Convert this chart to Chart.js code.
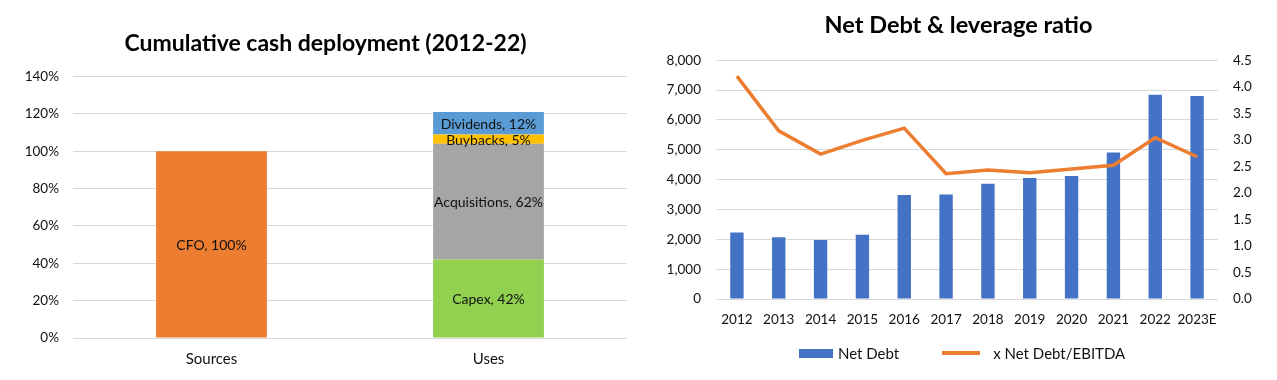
<!DOCTYPE html>
<html>
<head>
<meta charset="utf-8">
<script src="https://cdn.jsdelivr.net/npm/chart.js@4.4.1/dist/chart.umd.min.js"></script>
<style>
  body { margin: 0; background: #fff; }
  .wrap { position: relative; width: 1277px; height: 380px; }
  #cashChart { position: absolute; left: 0; top: 0; }
  #debtChart { position: absolute; left: 640px; top: 0; }
  #debtLegend {
    position: absolute; left: 799px; top: 343px; height: 20px;
    display: flex; align-items: center;
    font: 15px Lato, "Open Sans", sans-serif; color: #111;
  }
  #debtLegend .item { display: flex; align-items: center; margin-right: 43px; }
  #debtLegend .swatch { margin-right: 5px; }
  #debtLegend .swatch.line { margin-right: 13px; }
</style>
</head>
<body>
<div class="wrap">
  <canvas id="cashChart" width="640" height="380"></canvas>
  <canvas id="debtChart" width="637" height="380"></canvas>
  <div id="debtLegend"></div>
</div>
<script>
// left chart: cumulative cash deployment, % of CFO
const cashCategories = ['Sources', 'Uses'];
const cfo = [100, null];
const capex = [null, 42];
const acquisitions = [null, 62];
const buybacks = [null, 5];
const dividends = [null, 12];

// right chart: net debt and leverage
const years = ['2012', '2013', '2014', '2015', '2016', '2017', '2018', '2019', '2020', '2021', '2022', '2023E'];
const netDebt = [2230, 2070, 1980, 2150, 3480, 3500, 3860, 4050, 4120, 4910, 6840, 6800];
const leverage = [4.20, 3.17, 2.73, 2.99, 3.22, 2.36, 2.43, 2.38, 2.45, 2.52, 3.04, 2.68];

const FONT = 'Lato, "Open Sans", sans-serif';
Chart.defaults.font.family = FONT;
Chart.defaults.color = '#111';

// writes "Name, x%" in the middle of every stacked segment
const segmentLabels = {
  id: 'segmentLabels',
  afterDatasetsDraw(chart) {
    const ctx = chart.ctx;
    ctx.save();
    ctx.font = '14px ' + FONT;
    ctx.fillStyle = '#111';
    ctx.textAlign = 'center';
    ctx.textBaseline = 'middle';
    chart.data.datasets.forEach((ds, i) => {
      chart.getDatasetMeta(i).data.forEach((bar, j) => {
        const v = ds.data[j];
        if (v == null) return;
        ctx.fillText(ds.label + ', ' + v + '%', bar.x, (bar.y + bar.base) / 2 + 1);
      });
    });
    ctx.restore();
  }
};

// html legend below the right chart, bar first then line
const htmlLegend = {
  id: 'htmlLegend',
  afterUpdate(chart) {
    const box = document.getElementById('debtLegend');
    box.innerHTML = '';
    chart.data.datasets.slice().reverse().forEach(ds => {
      const item = document.createElement('div');
      item.className = 'item';
      const sw = document.createElement('span');
      if (ds.type === 'line') {
        sw.className = 'swatch line';
        sw.style.cssText = 'display:inline-block;width:38px;height:4px;background:' + ds.borderColor;
      } else {
        sw.className = 'swatch';
        sw.style.cssText = 'display:inline-block;width:34px;height:9px;background:' + ds.backgroundColor;
      }
      const txt = document.createElement('span');
      txt.textContent = ds.label;
      item.appendChild(sw);
      item.appendChild(txt);
      box.appendChild(item);
    });
  }
};

new Chart(document.getElementById('cashChart'), {
  type: 'bar',
  data: {
    labels: cashCategories,
    datasets: [
      { label: 'CFO', data: cfo, backgroundColor: '#ED7D31' },
      { label: 'Capex', data: capex, backgroundColor: '#92D050' },
      { label: 'Acquisitions', data: acquisitions, backgroundColor: '#A5A5A5' },
      { label: 'Buybacks', data: buybacks, backgroundColor: '#FFC000' },
      { label: 'Dividends', data: dividends, backgroundColor: '#5B9BD5' }
    ]
  },
  options: {
    responsive: false,
    animation: false,
    // left padding + narrow y axis keeps the title centred like the original
    layout: { padding: { left: 24, right: 13, top: 0, bottom: 0 } },
    datasets: { bar: { barPercentage: 0.4, categoryPercentage: 1, skipNull: true, grouped: false } },
    plugins: {
      legend: { display: false },
      tooltip: { enabled: false },
      title: {
        display: true,
        text: 'Cumulative cash deployment (2012-22)',
        color: '#000',
        font: { size: 23, weight: 'bold' },
        padding: { top: 30, bottom: 19 }
      }
    },
    scales: {
      x: {
        stacked: true,
        grid: { display: false, drawTicks: false },
        border: { display: false },
        ticks: { padding: 12, font: { size: 15 } },
        afterFit(s) { s.height = 42; }
      },
      y: {
        stacked: true,
        min: 0,
        max: 140,
        ticks: { stepSize: 20, padding: 14, font: { size: 13.5 }, callback: v => v + '%' },
        grid: { color: '#d9d9d9', drawTicks: false },
        border: { display: false },
        afterFit(s) { s.width = 49; }
      }
    }
  },
  plugins: [segmentLabels]
});

new Chart(document.getElementById('debtChart'), {
  type: 'bar',
  data: {
    labels: years,
    datasets: [
      {
        type: 'line',
        label: 'x Net Debt/EBITDA',
        data: leverage,
        yAxisID: 'y2',
        borderColor: '#ED7D31',
        borderWidth: 3.5,
        pointRadius: 0,
        tension: 0,
        order: 0
      },
      {
        label: 'Net Debt',
        data: netDebt,
        yAxisID: 'y',
        backgroundColor: '#4472C4',
        barPercentage: 0.32,
        categoryPercentage: 1,
        order: 1
      }
    ]
  },
  options: {
    responsive: false,
    animation: false,
    layout: { padding: { left: 0, right: 0, top: 0, bottom: 0 } },
    plugins: {
      tooltip: { enabled: false },
      legend: { display: false },
      title: {
        display: true,
        text: 'Net Debt & leverage ratio',
        color: '#000',
        font: { size: 23.5, weight: 'bold' },
        padding: { top: 11, bottom: 21 }
      }
    },
    scales: {
      x: {
        grid: { display: false, drawTicks: false },
        border: { display: false },
        ticks: { padding: 13, font: { size: 13.5 }, autoSkip: false, maxRotation: 0 },
        afterFit(s) { s.height = 81; }
      },
      y: {
        position: 'left',
        min: 0,
        max: 8000,
        ticks: { stepSize: 1000, padding: 15, font: { size: 13.5 }, callback: v => v.toLocaleString('en-US') },
        grid: { color: '#d9d9d9', drawTicks: false },
        border: { display: false },
        afterFit(s) { s.width = 76; }
      },
      y2: {
        position: 'right',
        min: 0,
        max: 4.5,
        ticks: { stepSize: 0.5, padding: 15, font: { size: 13.5 }, callback: v => v.toFixed(1) },
        grid: { display: false, drawTicks: false },
        border: { display: false },
        afterFit(s) { s.width = 59; }
      }
    }
  },
  plugins: [htmlLegend]
});
</script>
</body>
</html>
